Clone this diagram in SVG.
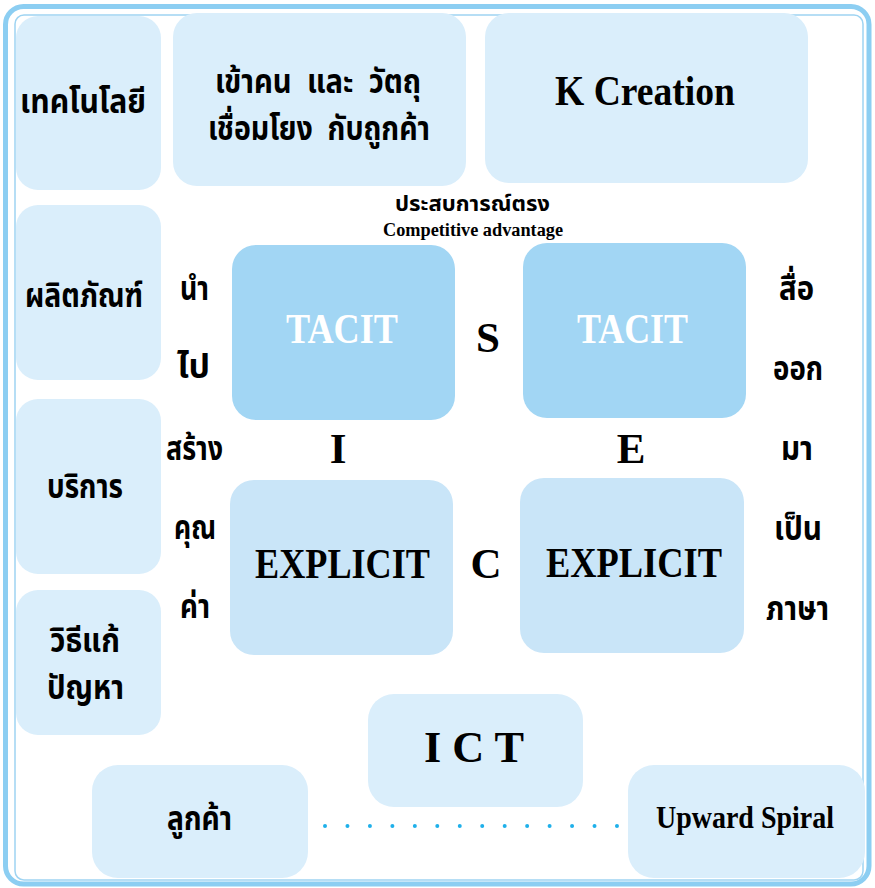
<svg xmlns="http://www.w3.org/2000/svg" width="875" height="888" viewBox="0 0 875 888">
<style>
.box{fill:#daeefb}
.tacit{fill:#a2d6f4}
.expl{fill:#c9e5f8}
.th{font-family:"Noto Sans Thai","Noto Sans","DejaVu Sans",sans-serif;font-weight:bold;fill:#000}
.en{font-family:"Liberation Serif","Times New Roman",serif;font-weight:bold;fill:#000}
.wh{fill:#fff}
</style>
<rect x="5.5" y="6.5" width="863.5" height="877.5" rx="18" fill="#fff" stroke="#8ccef2" stroke-width="5"/>
<rect x="15" y="15" width="848" height="865" rx="9" fill="none" stroke="#9fd4f2" stroke-width="1.5"/>

<g id="n-technology"><rect class="box" x="16" y="16" width="145" height="174" rx="22"/>
<text class="th" x="20" y="113" font-size="33" textLength="126" lengthAdjust="spacingAndGlyphs">เทคโนโลยี</text></g>

<g id="n-connect"><rect class="box" x="173" y="13" width="293" height="173" rx="24"/>
<text class="th" x="215" y="93" font-size="33" textLength="206" lengthAdjust="spacingAndGlyphs" xml:space="preserve">เข้าคน  และ  วัตถุ</text>
<text class="th" x="208" y="140" font-size="33" textLength="222" lengthAdjust="spacingAndGlyphs" xml:space="preserve">เชื่อมโยง  กับถูกค้า</text></g>

<g id="n-kcreation"><rect class="box" x="485" y="13" width="323" height="170" rx="24"/>
<text class="en" x="555" y="105" font-size="43" textLength="180" lengthAdjust="spacingAndGlyphs">K Creation</text></g>

<g id="n-experience">
<text class="th" x="395" y="211" font-size="22" textLength="155" lengthAdjust="spacingAndGlyphs">ประสบการณ์ตรง</text>
<text class="en" x="383" y="236" font-size="18" textLength="180" lengthAdjust="spacingAndGlyphs">Competitive advantage</text></g>

<g id="n-product"><rect class="box" x="16" y="205" width="145" height="175" rx="22"/>
<text class="th" x="25" y="307" font-size="33" textLength="118" lengthAdjust="spacingAndGlyphs">ผลิตภัณฑ์</text></g>

<g id="n-service"><rect class="box" x="16" y="399" width="145" height="175" rx="22"/>
<text class="th" x="47" y="498" font-size="33" textLength="76" lengthAdjust="spacingAndGlyphs">บริการ</text></g>

<g id="n-solution"><rect class="box" x="16" y="590" width="145" height="145" rx="22"/>
<text class="th" x="50" y="652" font-size="33" textLength="70" lengthAdjust="spacingAndGlyphs">วิธีแก้</text>
<text class="th" x="47" y="699" font-size="33" textLength="77" lengthAdjust="spacingAndGlyphs">ปัญหา</text></g>

<g id="n-tacit1"><rect class="tacit" x="232" y="245" width="223" height="175" rx="24"/>
<text class="en wh" x="286" y="343" font-size="43" textLength="112" lengthAdjust="spacingAndGlyphs">TACIT</text></g>

<g id="n-tacit2"><rect class="tacit" x="523" y="243" width="223" height="175" rx="24"/>
<text class="en wh" x="577" y="343" font-size="43" textLength="111" lengthAdjust="spacingAndGlyphs">TACIT</text></g>

<g id="n-explicit1"><rect class="expl" x="230" y="480" width="223" height="175" rx="24"/>
<text class="en" x="255" y="578" font-size="43" textLength="175" lengthAdjust="spacingAndGlyphs">EXPLICIT</text></g>

<g id="n-explicit2"><rect class="expl" x="520" y="478" width="224" height="175" rx="24"/>
<text class="en" x="546" y="577" font-size="43" textLength="176" lengthAdjust="spacingAndGlyphs">EXPLICIT</text></g>

<g id="n-seci">
<text class="en" x="488" y="352" font-size="43" text-anchor="middle">S</text>
<text class="en" x="338" y="463" font-size="43" text-anchor="middle">I</text>
<text class="en" x="631" y="463" font-size="43" text-anchor="middle">E</text>
<text class="en" x="486" y="578" font-size="43" text-anchor="middle">C</text>
</g>

<g id="n-leftwords">
<text class="th" x="180" y="300" font-size="33" textLength="29" lengthAdjust="spacingAndGlyphs">นำ</text>
<text class="th" x="177" y="378" font-size="33" textLength="33" lengthAdjust="spacingAndGlyphs">ไป</text>
<text class="th" x="166" y="460" font-size="33" textLength="57" lengthAdjust="spacingAndGlyphs">สร้าง</text>
<text class="th" x="174" y="539" font-size="33" textLength="42" lengthAdjust="spacingAndGlyphs">คุณ</text>
<text class="th" x="180" y="618" font-size="33" textLength="30" lengthAdjust="spacingAndGlyphs">ค่า</text>
</g>

<g id="n-rightwords">
<text class="th" x="779" y="300" font-size="33" textLength="35" lengthAdjust="spacingAndGlyphs">สื่อ</text>
<text class="th" x="773" y="380" font-size="33" textLength="50" lengthAdjust="spacingAndGlyphs">ออก</text>
<text class="th" x="781" y="460" font-size="33" textLength="32" lengthAdjust="spacingAndGlyphs">มา</text>
<text class="th" x="774" y="540" font-size="33" textLength="48" lengthAdjust="spacingAndGlyphs">เป็น</text>
<text class="th" x="766" y="620" font-size="33" textLength="63" lengthAdjust="spacingAndGlyphs">ภาษา</text>
</g>

<g id="n-ict"><rect class="box" x="368" y="694" width="215" height="113" rx="26"/>
<text class="en" x="424" y="762" font-size="44" textLength="100" lengthAdjust="spacingAndGlyphs">I C T</text></g>

<g id="n-customer"><rect class="box" x="92" y="765" width="216" height="113" rx="26"/>
<text class="th" x="167" y="830" font-size="33" textLength="65" lengthAdjust="spacingAndGlyphs">ลูกค้า</text></g>

<g id="n-spiral"><rect class="box" x="628" y="765" width="237" height="113" rx="26"/>
<text class="en" x="656" y="828" font-size="31" textLength="178" lengthAdjust="spacingAndGlyphs">Upward Spiral</text></g>

<g id="connectors">
<line x1="325" y1="826" x2="617" y2="826" stroke="#1fb0ea" stroke-width="4" stroke-linecap="round" stroke-dasharray="0 22.46"/>
</g>
</svg>
